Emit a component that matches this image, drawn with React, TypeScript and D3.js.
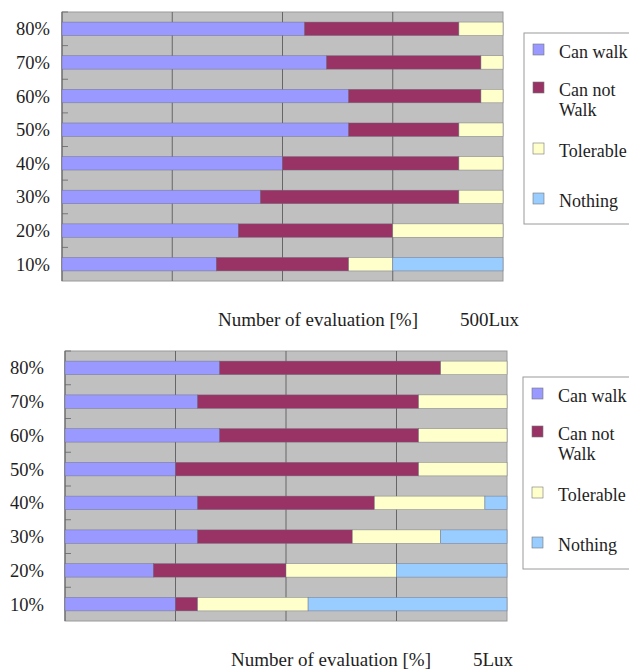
import React from "react";
import * as d3 from "d3";

// Illuminance levels on the vertical axis, top to bottom
const categories = ["80%", "70%", "60%", "50%", "40%", "30%", "20%", "10%"];
const seriesNames = ["Can walk", "Can not Walk", "Tolerable", "Nothing"];
const seriesKeys = ["canWalk", "canNot", "tolerable", "nothing"];
const seriesColors = ["#9999ff", "#993366", "#ffffcc", "#99ccff"];
const xTicks = [0, 25, 50, 75, 100];

// 500 Lux evaluations [%]
const lux500CanWalk = [55, 60, 65, 65, 50, 45, 40, 35];
const lux500CanNot = [35, 35, 30, 25, 40, 45, 35, 30];
const lux500Tolerable = [10, 5, 5, 10, 10, 10, 25, 10];
const lux500Nothing = [0, 0, 0, 0, 0, 0, 0, 25];

// 5 Lux evaluations [%]
const lux5CanWalk = [35, 30, 35, 25, 30, 30, 20, 25];
const lux5CanNot = [50, 50, 45, 55, 40, 35, 30, 5];
const lux5Tolerable = [15, 20, 20, 20, 25, 20, 25, 25];
const lux5Nothing = [0, 0, 0, 0, 5, 15, 25, 45];

const FONT = "'Liberation Serif', 'Times New Roman', serif";
const TEXT = "#1e1e1e";

type Row = { cat: string; canWalk: number; canNot: number; tolerable: number; nothing: number };

function buildRows(a: number[], b: number[], c: number[], d: number[]): Row[] {
  return categories.map((cat, i) => ({ cat, canWalk: a[i], canNot: b[i], tolerable: c[i], nothing: d[i] }));
}

type Layout = {
  x0: number; x1: number; y0: number; y1: number;
  labelX: number;
  titleX: number; titleY: number; luxX: number;
  legendX: number; legendY: number; legendH: number;
};

function Panel({ rows, lux, L }: { rows: Row[]; lux: string; L: Layout }) {
  const x = d3.scaleLinear().domain([0, 100]).range([L.x0, L.x1]);
  const y = d3.scaleBand<string>().domain(categories).range([L.y0, L.y1]).paddingInner(0.6).paddingOuter(0.3);
  const band = d3.scaleBand<string>().domain(categories).range([L.y0, L.y1]);
  const stack = d3.stack<Row>().keys(seriesKeys);
  const layers = stack(rows);
  const legendOffsets = [19, 57, 118, 168];

  return (
    <g>
      <rect x={L.x0} y={L.y0} width={L.x1 - L.x0} height={L.y1 - L.y0} fill="#c0c0c0" stroke="#9a9a9a" strokeWidth={1} />
      {xTicks.slice(1, -1).map((t) => (
        <line key={t} x1={x(t)} x2={x(t)} y1={L.y0} y2={L.y1} stroke="#666" strokeWidth={1} />
      ))}
      {categories.map((c) => (
        <line key={"t" + c} x1={L.x0} x2={L.x0 + 6} y1={band(c)!} y2={band(c)!} stroke="#777" strokeWidth={1} />
      ))}
      <line x1={L.x0} x2={L.x0} y1={L.y0} y2={L.y1} stroke="#666" strokeWidth={1.2} />
      {layers.map((layer, li) => (
        <g key={layer.key} fill={seriesColors[li]}>
          {layer.map((d) => {
            const w = x(d[1]) - x(d[0]);
            if (w <= 0) return null;
            return (
              <rect key={d.data.cat} x={x(d[0])} y={y(d.data.cat)!} width={w} height={y.bandwidth()}
                stroke="#6a6a7a" strokeWidth={0.6} strokeOpacity={0.7} />
            );
          })}
        </g>
      ))}
      {categories.map((c) => (
        <text key={"l" + c} x={L.labelX} y={y(c)! + y.bandwidth() / 2} dy="0.35em" textAnchor="end"
          fontFamily={FONT} fontSize={18.5} fill={TEXT}>{c}</text>
      ))}
      <text x={L.titleX} y={L.titleY} fontFamily={FONT} fontSize={19} fill={TEXT}>Number of evaluation [%]</text>
      <text x={L.luxX} y={L.titleY} fontFamily={FONT} fontSize={19} fill={TEXT}>{lux}</text>

      <rect x={L.legendX} y={L.legendY} width={130} height={L.legendH} fill="#fff" stroke="#9a9a9a" strokeWidth={1} />
      {seriesNames.map((name, i) => {
        const cy = L.legendY + legendOffsets[i];
        const lines = name === "Can not Walk" ? ["Can not", "Walk"] : [name];
        return (
          <g key={name}>
            <rect x={L.legendX + 9} y={cy - 8} width={11} height={11} fill={seriesColors[i]} stroke="#777" strokeWidth={0.6} />
            {lines.map((ln, k) => (
              <text key={ln} x={L.legendX + 35} y={cy + k * 20} dy="0.35em" fontFamily={FONT} fontSize={18} fill={TEXT}>{ln}</text>
            ))}
          </g>
        );
      })}
    </g>
  );
}

export default function App() {
  const rows500 = buildRows(lux500CanWalk, lux500CanNot, lux500Tolerable, lux500Nothing);
  const rows5 = buildRows(lux5CanWalk, lux5CanNot, lux5Tolerable, lux5Nothing);
  return (
    <svg width={629} height={669} style={{ position: "absolute", left: 0, top: 0, background: "#fff" }}>
      <Panel rows={rows500} lux="500Lux"
        L={{ x0: 62, x1: 503, y0: 12, y1: 281, labelX: 50, titleX: 218, titleY: 326, luxX: 460,
          legendX: 524, legendY: 33, legendH: 191 }} />
      <Panel rows={rows5} lux="5Lux"
        L={{ x0: 65, x1: 507, y0: 351, y1: 621, labelX: 44, titleX: 231, titleY: 666, luxX: 473,
          legendX: 523, legendY: 377, legendH: 192 }} />
    </svg>
  );
}
